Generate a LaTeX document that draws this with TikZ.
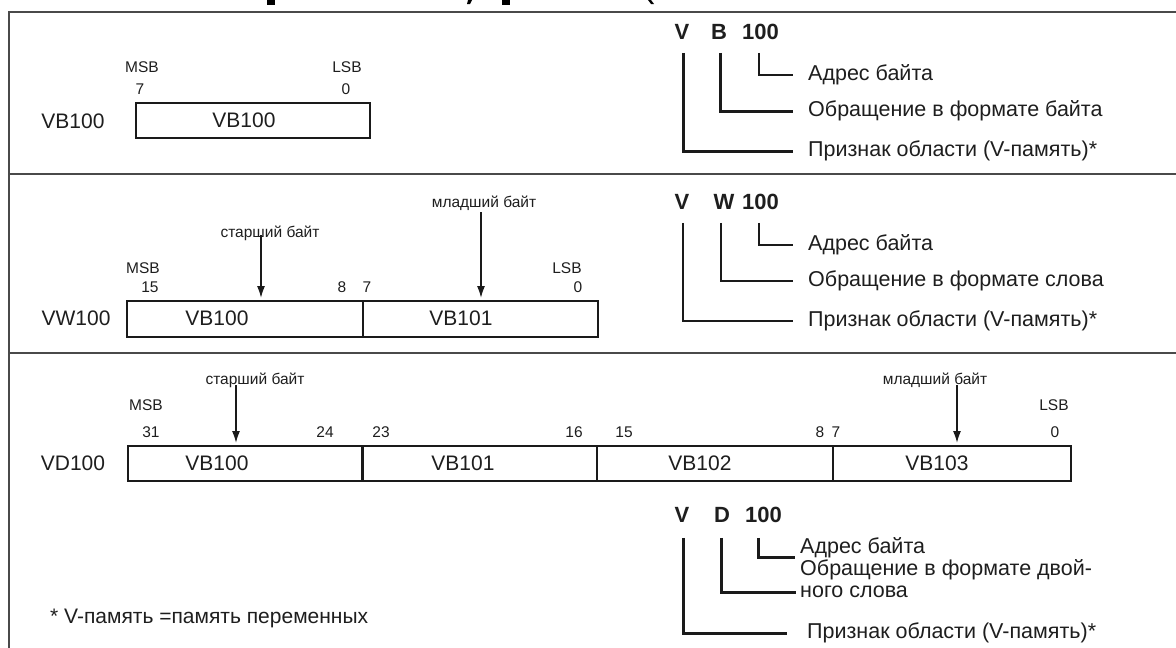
\documentclass[tikz,border=0pt]{standalone}
\usepackage{fontspec}
\setmainfont{Liberation Sans}
\usetikzlibrary{arrows.meta}
\definecolor{txt}{HTML}{1E1E1E}
\definecolor{framegray}{HTML}{4A4A4A}
\definecolor{boxblack}{HTML}{1A1A1A}
\begin{document}
\begin{tikzpicture}[x=1pt,y=-1pt,
  every node/.style={inner sep=0pt, text=txt},
  big/.style={font=\fontsize{21}{24}\selectfont},
  small/.style={font=\fontsize{15.5}{18}\selectfont},
  letter/.style={font=\fontsize{22}{24}\selectfont\bfseries},
  ann/.style={font=\fontsize{21.5}{24}\selectfont, anchor=west},
  frameline/.style={draw=framegray, line width=2.4pt},
  cell/.style={draw=boxblack, line width=1.6pt},
  thickcell/.style={draw=boxblack, line width=3pt},
  leadthick/.style={draw=boxblack, line width=3pt},
  leadmid/.style={draw=boxblack, line width=2.3pt},
  leadthin/.style={draw=boxblack, line width=1.6pt},
  ptr/.style={draw=boxblack, line width=1.6pt, -{Latex[length=12pt,width=8pt]}},
]
\useasboundingbox (0,0) rectangle (1176,648);
\fill[white] (0,0) rectangle (1176,648);

% clipped title fragments
\fill[black] (267,0) rectangle (275,5);
\fill[black] (502,0) rectangle (510,5);
\fill[black] (468,0) -- (472,0) -- (470,4) -- (467,4) -- cycle;
\fill[black] (648,0) -- (651,0) -- (654,4) -- (651,4) -- cycle;

% frame
\coordinate (fTL) at (9,12);
\coordinate (fTR) at (1176,12);
\coordinate (fBL) at (9,648);
\coordinate (d1L) at (9,174);
\coordinate (d1R) at (1176,174);
\coordinate (d2L) at (9,353);
\coordinate (d2R) at (1176,353);
\draw[frameline] (fBL) -- (fTL) -- (fTR);
\draw[frameline] (d1L) -- (d1R);
\draw[frameline] (d2L) -- (d2R);

% ---------------- section 1 : byte ----------------
\node[big] (lb1) at (73,121) {VB100};
\node[cell, minimum width=234pt, minimum height=35pt, anchor=north west] (box1) at (135,102) {};
\node[big] (c1) at (244,120) {VB100};
\node[small] (msb1) at (142,67) {MSB};
\node[small] (lsb1) at (347,67) {LSB};
\node[small] (b1h) at (140,89) {7};
\node[small] (b1l) at (346,89) {0};

\node[letter] (v1) at (682,32) {V};
\node[letter] (t1) at (719,32) {B};
\node[letter, anchor=west] (n1) at (742,32) {100};
\node[ann] (a1) at (808,75) {Адрес байта};
\node[ann] (o1) at (808,111) {Обращение в формате байта};
\node[ann] (p1) at (808,151) {Признак области (V-память)*};
\draw[leadthin] ([xshift=17pt,yshift=-13pt]n1.south west) |- ([xshift=-15pt]a1.west);
\draw[leadthick] ([xshift=1pt,yshift=-13pt]t1.south) |- ([xshift=-15pt]o1.west);
\draw[leadthick] ([xshift=1pt,yshift=-13pt]v1.south) |- ([xshift=-15pt]p1.west);

% ---------------- section 2 : word ----------------
\node[big] (lb2) at (76,318) {VW100};
\node[cell, minimum width=471pt, minimum height=36pt, anchor=north west] (box2) at (126,300) {};
\coordinate (s2t) at (363,300);
\coordinate (s2b) at (363,336);
\draw[cell] (s2t) -- (s2b);
\node[big] (c2a) at (217,318) {VB100};
\node[big] (c2b) at (461,318) {VB101};
\node[small] (msb2) at (143,268) {MSB};
\node[small] (lsb2) at (567,268) {LSB};
\node[small] (b2a) at (150,287) {15};
\node[small] (b2b) at (342,287) {8};
\node[small] (b2c) at (367,287) {7};
\node[small] (b2d) at (578,287) {0};
\node[small] (hi2) at (270,233) {старший байт};
\node[small] (lo2) at (484,203) {младший байт};
\coordinate (hi2t) at (261,235);
\coordinate (hi2e) at (261,298);
\coordinate (lo2t) at (481,212);
\coordinate (lo2e) at (481,298);
\draw[ptr] (hi2t) -- (hi2e);
\draw[ptr] (lo2t) -- (lo2e);

\node[letter] (v2) at (682,202) {V};
\node[letter] (t2) at (724,202) {W};
\node[letter, anchor=west] (n2) at (742,202) {100};
\node[ann] (a2) at (808,245) {Адрес байта};
\node[ann] (o2) at (808,281) {Обращение в формате слова};
\node[ann] (p2) at (808,321) {Признак области (V-память)*};
\draw[leadthin] ([xshift=17pt,yshift=-13pt]n2.south west) |- ([xshift=-15pt]a2.west);
\draw[leadmid] ([xshift=-3pt,yshift=-13pt]t2.south) |- ([xshift=-15pt]o2.west);
\draw[leadmid] ([xshift=1pt,yshift=-13pt]v2.south) |- ([xshift=-15pt]p2.west);

% ---------------- section 3 : double word ----------------
\node[big] (lb3) at (73,463) {VD100};
\node[cell, minimum width=943pt, minimum height=35pt, anchor=north west] (box3) at (127,445) {};
\coordinate (s3at) at (362,445);
\coordinate (s3ab) at (362,480);
\coordinate (s3bt) at (597,445);
\coordinate (s3bb) at (597,480);
\coordinate (s3ct) at (833,445);
\coordinate (s3cb) at (833,480);
\draw[thickcell] (s3at) -- (s3ab);
\draw[cell] (s3bt) -- (s3bb);
\draw[cell] (s3ct) -- (s3cb);
\node[big] (c3a) at (217,463) {VB100};
\node[big] (c3b) at (463,463) {VB101};
\node[big] (c3c) at (700,463) {VB102};
\node[big] (c3d) at (937,463) {VB103};
\node[small] (msb3) at (146,405) {MSB};
\node[small] (lsb3) at (1054,405) {LSB};
\node[small] (b3a) at (151,432) {31};
\node[small] (b3b) at (325,432) {24};
\node[small] (b3c) at (381,432) {23};
\node[small] (b3d) at (574,432) {16};
\node[small] (b3e) at (624,432) {15};
\node[small] (b3f) at (820,432) {8};
\node[small] (b3g) at (836,432) {7};
\node[small] (b3h) at (1055,432) {0};
\node[small] (hi3) at (255,380) {старший байт};
\node[small] (lo3) at (935,380) {младший байт};
\coordinate (hi3t) at (236,385);
\coordinate (hi3e) at (236,443);
\coordinate (lo3t) at (957,385);
\coordinate (lo3e) at (957,443);
\draw[ptr] (hi3t) -- (hi3e);
\draw[ptr] (lo3t) -- (lo3e);

\node[letter] (v3) at (682,515) {V};
\node[letter] (t3) at (722,515) {D};
\node[letter, anchor=west] (n3) at (745,515) {100};
\node[ann] (a3) at (800,548) {Адрес байта};
\node[ann] (o3) at (800,570) {Обращение в формате двой-};
\node[ann] (o3b) at (800,592) {ного слова};
\node[ann] (p3) at (807,633) {Признак области (V-память)*};
\draw[leadthick] ([xshift=13pt,yshift=-15pt]n3.south west) |- ([xshift=-5pt,yshift=-9pt]a3.west);
\draw[leadthick] ([xshift=-1pt,yshift=-15pt]t3.south) |- ([xshift=-4pt]o3b.west);
\draw[leadthick] ([xshift=1pt,yshift=-15pt]v3.south) |- ([xshift=-20pt]p3.west);

\node[big, anchor=west] (foot) at (50,618) {* V-память =память переменных};
\end{tikzpicture}
\end{document}
